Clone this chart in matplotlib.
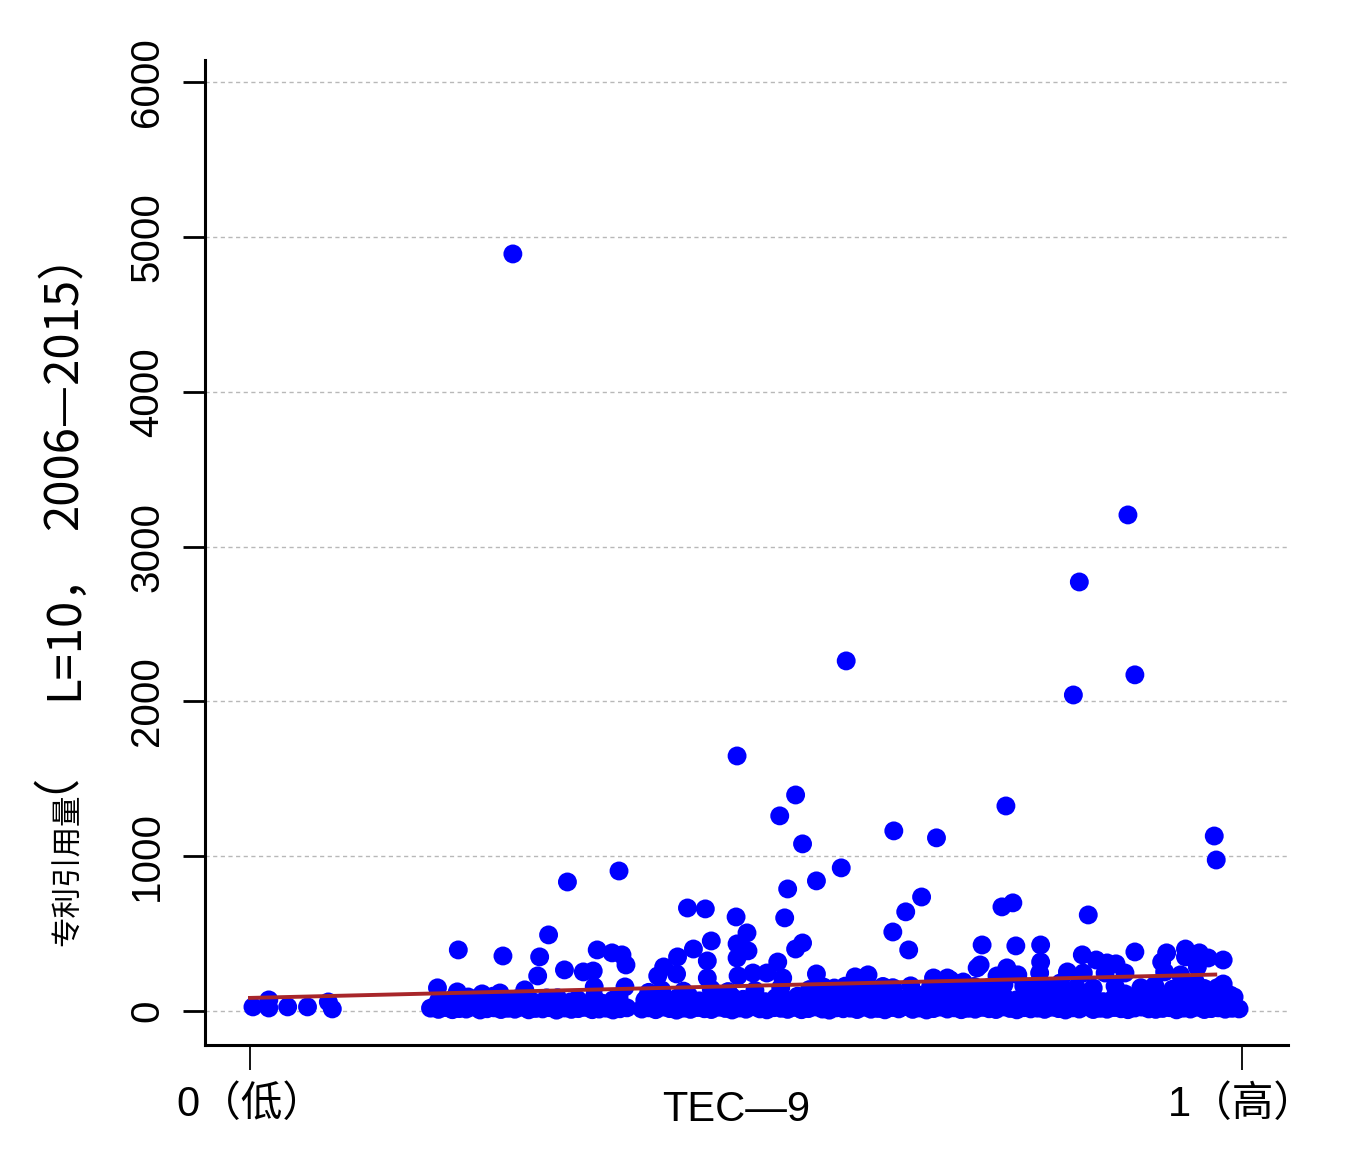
import matplotlib
matplotlib.use("Agg")
import matplotlib.pyplot as plt
from matplotlib import font_manager

# fonts: latin + CJK fallback
names = {f.name for f in font_manager.fontManager.ttflist}
latin = "Liberation Sans Narrow" if "Liberation Sans Narrow" in names else "Liberation Sans"
plt.rcParams["font.family"] = [latin, "Noto Sans CJK SC"]

# Data
# small cluster near TEC-9 = 0
x_low = [0.003, 0.019, 0.019, 0.038, 0.058, 0.079, 0.083]
y_low = [26, 71, 19, 26, 26, 58, 13]

# scattered points above the band
x_pts = [0.265, 0.885, 0.836, 0.601, 0.830, 0.892, 0.491, 0.550, 0.534, 0.762,
         0.557, 0.649, 0.692, 0.972, 0.974, 0.596, 0.372, 0.320, 0.571, 0.542,
         0.677, 0.661, 0.769, 0.758, 0.441, 0.459, 0.490, 0.539, 0.845, 0.648,
         0.501, 0.301, 0.465, 0.557, 0.550, 0.664, 0.210, 0.255, 0.292, 0.350,
         0.365, 0.375, 0.379, 0.738, 0.772, 0.797, 0.892, 0.924, 0.943, 0.943,
         0.957, 0.966, 0.981, 0.839, 0.853, 0.864, 0.873, 0.919, 0.955, 0.736,
         0.797, 0.763, 0.753, 0.774, 0.796, 0.796, 0.824, 0.817, 0.840, 0.862,
         0.882, 0.922, 0.938, 0.953, 0.981, 0.988, 0.706, 0.719, 0.491, 0.502,
         0.491, 0.431, 0.447, 0.461, 0.417, 0.411, 0.430, 0.461, 0.492, 0.507,
         0.521, 0.532, 0.537, 0.571, 0.623, 0.610, 0.733, 0.689, 0.703, 0.189,
         0.209, 0.220, 0.234, 0.252, 0.277, 0.269, 0.290, 0.299, 0.317, 0.346,
         0.336, 0.347, 0.347, 0.378, 0.323, 0.366, 0.400]
y_pts = [4890, 3204, 2771, 2261, 2041, 2171, 1647, 1395, 1260, 1324,
         1079, 1163, 1118, 1130, 975, 924, 904, 833, 840, 788,
         736, 640, 698, 672, 665, 659, 607, 601, 620, 510,
         504, 491, 452, 439, 400, 394, 394, 355, 349, 394,
         375, 362, 297, 426, 420, 426, 381, 375, 400, 349,
         375, 342, 329, 362, 329, 310, 304, 316, 284, 297,
         316, 278, 226, 233, 245, 181, 252, 181, 245, 245,
         245, 252, 233, 187, 174, 103, 200, 187, 433, 388,
         342, 349, 400, 323, 284, 226, 239, 213, 226, 245,
         245, 316, 213, 239, 233, 220, 278, 213, 213, 149,
         123, 90, 110, 116, 136, 78, 226, 84, 265, 258,
         252, 155, 90, 155, 58, 71, 84]

# band rows (~150 citations)
x_mid = [0.402, 0.415, 0.437, 0.465, 0.482, 0.509, 0.535, 0.564, 0.578, 0.589,
         0.600, 0.613, 0.626, 0.638, 0.648, 0.666, 0.686, 0.700, 0.716, 0.730,
         0.744, 0.760, 0.780, 0.808, 0.833, 0.850, 0.872, 0.898, 0.912, 0.930,
         0.946, 0.962, 0.975]
y_mid = [120, 135, 128, 140, 125, 132, 150, 138, 155, 148,
         160, 152, 145, 158, 150, 162, 155, 148, 165, 158,
         150, 170, 160, 155, 150, 148, 160, 150, 165, 140,
         155, 145, 150]

# band rows (~50-110 citations)
x_rowb = [0.190, 0.205, 0.228, 0.245, 0.262, 0.285, 0.310, 0.330, 0.355, 0.372,
          0.398, 0.409, 0.420, 0.431, 0.442, 0.453, 0.464, 0.475, 0.486, 0.497,
          0.508, 0.519, 0.530, 0.541, 0.552, 0.563, 0.574, 0.585, 0.596, 0.607,
          0.618, 0.629, 0.640, 0.651, 0.662, 0.673, 0.684, 0.695, 0.706, 0.717,
          0.728, 0.739, 0.750, 0.761, 0.772, 0.783, 0.794, 0.805, 0.816, 0.827,
          0.838, 0.849, 0.860, 0.871, 0.882, 0.893, 0.904, 0.915, 0.926, 0.937,
          0.948, 0.959, 0.970, 0.981, 0.992]
y_rowb = [65, 80, 55, 95, 70, 60, 85, 75, 50, 90,
          70, 95, 60, 85, 100, 65, 80, 55, 90, 75,
          105, 60, 85, 70, 95, 65, 80, 100, 55, 90,
          75, 85, 60, 95, 70, 105, 80, 65, 90, 100,
          75, 60, 95, 85, 70, 105, 80, 90, 65, 100,
          75, 95, 60, 85, 110, 70, 90, 100, 80, 65,
          95, 75, 85, 60, 90]

# bottom row (~0-30 citations)
x_base = [0.182, 0.190, 0.197, 0.204, 0.211, 0.218, 0.225, 0.232, 0.239, 0.246,
          0.253, 0.260, 0.267, 0.274, 0.281, 0.288, 0.295, 0.302, 0.309, 0.317,
          0.324, 0.331, 0.338, 0.345, 0.352, 0.359, 0.366, 0.373, 0.380,
          0.395, 0.402, 0.409, 0.416, 0.423, 0.430, 0.437, 0.444, 0.451, 0.458,
          0.465, 0.472, 0.479, 0.486, 0.493, 0.500, 0.507, 0.514, 0.521, 0.528,
          0.535, 0.542, 0.549, 0.556, 0.563, 0.570, 0.577, 0.584, 0.591, 0.598,
          0.605, 0.612, 0.619, 0.626, 0.633, 0.640, 0.647, 0.654, 0.661, 0.668,
          0.675, 0.682, 0.689, 0.696, 0.703, 0.710, 0.717, 0.724, 0.731, 0.738,
          0.745, 0.752, 0.759, 0.766, 0.773, 0.780, 0.787, 0.794, 0.801, 0.808,
          0.815, 0.822, 0.829, 0.836, 0.843, 0.850, 0.857, 0.864, 0.871, 0.878,
          0.885, 0.892, 0.899, 0.906, 0.913, 0.920, 0.927, 0.934, 0.941, 0.948,
          0.955, 0.962, 0.969, 0.976, 0.983, 0.990, 0.997]
y_base = [18, 10, 22, 8, 15, 12, 25, 6, 14, 20,
          9, 17, 11, 24, 7, 16, 13, 21, 5, 19,
          10, 15, 23, 8, 12, 18, 6, 14, 20,
          12, 20, 8, 25, 15, 5, 18, 10, 22, 14,
          9, 24, 16, 6, 19, 11, 27, 13, 7, 21,
          17, 10, 23, 8, 15, 26, 12, 5, 20, 14,
          18, 9, 24, 11, 16, 7, 22, 13, 28, 10,
          19, 6, 15, 25, 12, 20, 8, 17, 11, 23,
          14, 9, 26, 16, 7, 21, 13, 18, 10, 24,
          15, 6, 20, 12, 27, 9, 17, 11, 22, 14,
          8, 19, 25, 13, 10, 16, 21, 7, 18, 12,
          24, 9, 15, 20, 11, 17, 13]

# fitted line
fit_x = [0.0, 0.973]
fit_y = [84, 235]

yticks = [0, 1000, 2000, 3000, 4000, 5000, 6000]
xticks = [0, 1]
xtick_labels = ["0（低）", "1（高）"]

fig = plt.figure(figsize=(13.59, 11.58), dpi=100)
ax = fig.add_axes([0.1508, 0.0976, 0.797, 0.8506])

dot = dict(s=185, color="#0000ff", edgecolors="none", zorder=3)
for xs, ys in [(x_base, y_base), (x_rowb, y_rowb), (x_mid, y_mid), (x_low, y_low), (x_pts, y_pts)]:
    ax.scatter(xs, ys, **dot)

ax.plot(fit_x, fit_y, color="#a8262a", lw=2.8, zorder=4)

ax.set_xlim(-0.0454, 1.0464)
ax.set_ylim(-220, 6143)

ax.set_yticks(yticks)
ax.set_yticklabels([str(v) for v in yticks], rotation=90, va="center")
ax.set_xticks(xticks)
ax.set_xticklabels(xtick_labels)

ax.yaxis.grid(True, linestyle=(0, (3, 2.5)), color="#b8b8b8", lw=1.0, zorder=0)
ax.set_axisbelow(True)

for s in ["top", "right"]:
    ax.spines[s].set_visible(False)
for s in ["left", "bottom"]:
    ax.spines[s].set_linewidth(2.2)

ax.tick_params(axis="y", length=16, width=2.0, pad=12, labelsize=29)
ax.tick_params(axis="x", length=18, width=1.3, pad=11, labelsize=30)

fig.text(736 / 1359, 1 - 1110 / 1158, "TEC—9", ha="center", va="center", fontsize=30)

# y label in pieces on a common baseline, one CJK font
ylab = dict(rotation=90, rotation_mode="anchor", ha="left", va="baseline",
            family="Noto Sans CJK SC")
bx = 77 / 1359
fig.text(bx, 1 - 946 / 1158, "专利引用量", fontsize=22, **ylab)
# lone bracket sits off the common baseline, so it is nudged left
fig.text(bx - 35 / 1359, 1 - 793 / 1158, "（", fontsize=34, **ylab)
fig.text(bx, 1 - 700 / 1158, "L=10，", fontsize=34, **ylab)
fig.text(bx, 1 - 530 / 1158, "2006—2015）", fontsize=34, **ylab)

fig.savefig("out.png", dpi=100)
